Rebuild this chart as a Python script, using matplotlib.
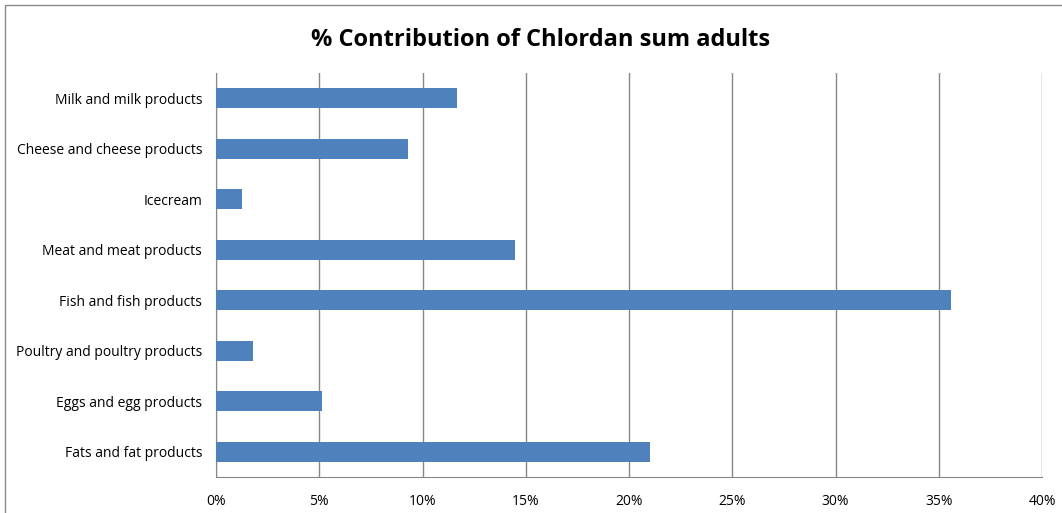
import matplotlib.pyplot as plt
from matplotlib.patches import Rectangle
from matplotlib.ticker import FuncFormatter

# data (top to bottom)
categories = [
    "Milk and milk products",
    "Cheese and cheese products",
    "Icecream",
    "Meat and meat products",
    "Fish and fish products",
    "Poultry and poultry products",
    "Eggs and egg products",
    "Fats and fat products",
]
contribution = [11.65, 9.3, 1.25, 14.5, 35.6, 1.8, 5.15, 21.0]
xticks = [0, 5, 10, 15, 20, 25, 30, 35, 40]

plt.rcParams['font.family'] = ['Open Sans', 'DejaVu Sans']

fig = plt.figure(figsize=(10.62, 5.13), dpi=100)
ax = fig.add_axes([0.2034, 0.0702, 0.7778, 0.7875])

# outer chart border
fig.patches.append(Rectangle((5 / 1062, -0.01), 1.0, 1.0 - 5 / 513 + 0.01,
                             transform=fig.transFigure, fill=False,
                             edgecolor='#898989', lw=1))

ypos = list(range(len(categories)))[::-1]
ax.barh(ypos, contribution, height=0.4, color='#4F81BD', zorder=3)

ax.set_xlim(0, 40)
ax.set_ylim(-0.5, len(categories) - 0.5)
ax.set_xticks(xticks)
ax.xaxis.set_major_formatter(FuncFormatter(lambda v, p: f"{v:.0f}%"))
ax.set_yticks(ypos)
ax.set_yticklabels(categories)
ax.tick_params(axis='both', length=0, labelsize=10, colors='black', pad=10)
ax.tick_params(axis='x', pad=12)

ax.grid(axis='x', color='#878787', lw=1, zorder=0)
for s in ['top', 'right']:
    ax.spines[s].set_visible(False)
for s in ['left', 'bottom']:
    ax.spines[s].set_color('#878787')

fig.text(0.509, 0.922, "% Contribution of Chlordan sum adults", ha='center',
         va='center', fontsize=17, fontweight='bold')

fig.savefig("out.png", dpi=100)
